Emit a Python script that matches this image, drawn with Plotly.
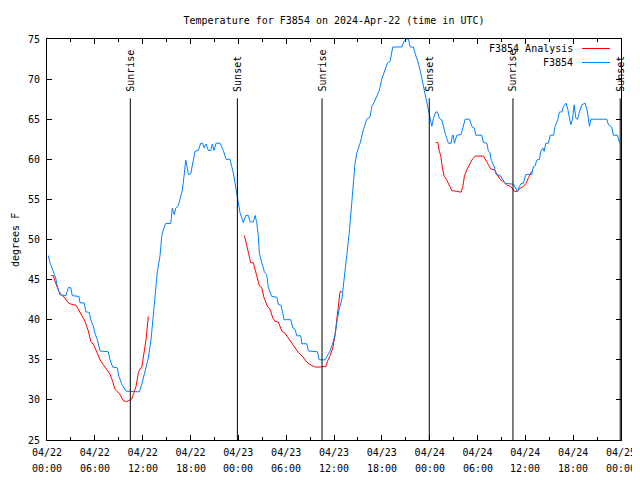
import pandas as pd
import plotly.graph_objects as go

# Hours since 2024-04-22 00:00 UTC, temperatures in degrees F
obs_hours = [0.16, 0.38, 0.79, 1.09, 1.29, 1.63, 2.38, 2.67, 2.97, 3.17, 4.02, 4.14, 4.68, 4.86,
             5.31, 5.48, 5.81, 6.02, 6.31, 6.65, 7.69, 7.90, 8.24, 8.82, 9.03, 9.37, 9.91, 11.58,
             11.88, 12.30, 12.71, 13.05, 13.30, 13.55, 13.84, 14.18, 14.39, 14.59, 14.89, 15.52,
             15.72, 15.97, 16.15, 16.47, 16.78, 16.98, 17.19, 17.40, 17.53, 17.73, 18.03, 18.28,
             18.57, 18.98, 19.28, 19.54, 19.70, 19.95, 20.24, 20.54, 20.74, 20.95, 21.20, 21.71,
             22.12, 22.46, 22.96, 23.17, 23.38, 23.59, 23.80, 24.00, 24.22, 24.43, 24.63, 24.93,
             25.26, 25.47, 25.88, 26.10, 26.31, 26.51, 26.64, 26.94, 27.26, 27.57, 27.77, 28.19,
             28.82, 29.02, 29.36, 29.57, 29.74, 30.58, 30.83, 31.12, 31.33, 31.83, 31.96, 32.58,
             32.79, 33.92, 34.13, 34.88, 35.17, 35.51, 35.85, 36.14, 36.35, 36.64, 36.98, 37.18,
             37.39, 37.60, 37.93, 38.23, 38.43, 38.64, 38.86, 39.27, 39.69, 39.90, 40.11, 40.53,
             40.74, 41.03, 41.37, 41.69, 41.99, 42.41, 42.70, 43.04, 43.37, 44.50, 44.79, 45.04,
             45.33, 45.55, 45.96, 46.30, 46.59, 46.89, 47.14, 47.43, 47.64, 47.84, 47.97, 48.27,
             48.47, 48.77, 48.97, 49.22, 49.52, 49.72, 50.02, 50.35, 50.69, 50.85, 50.98, 51.10,
             51.41, 51.94, 52.16, 52.45, 52.99, 53.29, 53.61, 53.79, 54.54, 54.74, 55.17, 55.37,
             55.58, 55.71, 56.09, 56.34, 56.84, 57.47, 58.51, 58.85, 59.01, 59.26, 59.47, 59.76,
             60.06, 60.81, 61.02, 61.23, 61.44, 61.77, 61.94, 62.19, 62.36, 62.57, 62.90, 63.11,
             63.53, 63.74, 64.08, 64.28, 64.58, 64.78, 65.12, 65.33, 65.53, 65.71, 65.91, 66.12,
             66.34, 66.54, 66.79, 67.09, 67.50, 67.79, 68.04, 68.22, 70.22, 70.43, 70.85, 71.05,
             71.56, 71.81]
obs_temps = [48.0, 47.1, 46.0, 45.2, 44.2, 43.1, 43.0, 44.0, 44.0, 43.0, 42.9, 42.1, 42.1, 41.0,
             40.9, 40.0, 39.2, 38.3, 37.5, 36.1, 36.0, 35.0, 34.1, 34.0, 32.9, 32.0, 31.1, 31.0,
             31.9, 33.4, 35.2, 37.5, 40.0, 42.9, 46.0, 48.0, 50.4, 51.2, 52.0, 52.0,
             53.9, 53.1, 53.9, 54.2, 55.4, 56.2, 57.9, 59.9, 59.3, 58.1, 58.2, 59.5,
             61.0, 61.1, 62.0, 62.0, 61.4, 61.9, 61.1, 61.1, 61.9, 61.1, 62.0, 62.0,
             61.1, 60.0, 60.0, 59.1, 58.3, 57.0, 55.8, 54.7, 53.3, 52.7, 52.1, 53.0,
             53.0, 52.2, 52.2, 53.0, 52.1, 50.4, 48.3, 47.1, 46.0, 45.6, 44.0, 42.9,
             42.8, 41.9, 41.8, 40.8, 40.0, 40.0, 39.0, 38.8, 38.0, 38.0, 37.0, 37.0,
             36.1, 36.0, 35.0, 35.0, 35.6, 36.1, 37.1, 38.1, 39.7, 41.3, 42.5, 44.5,
             45.8, 48.0, 51.0, 54.5, 57.4, 59.5, 60.8, 62.0, 63.7, 64.5, 65.0, 65.3,
             66.6, 67.1, 67.8, 68.6, 70.0, 71.1, 72.0, 72.2, 74.0, 74.0, 74.7, 75.0,
             75.0, 74.0, 74.0, 72.8, 72.0, 70.7, 69.5, 68.2, 67.0, 66.2, 65.3, 64.1,
             65.1, 65.9, 65.9, 65.1, 64.9, 64.1, 63.0, 62.0, 62.0, 63.0, 63.0, 62.0,
             63.0, 63.1, 64.1, 65.0, 65.0, 64.1, 63.9, 63.0, 63.0, 62.1, 62.0, 61.0,
             60.8, 59.9, 59.1, 58.1, 58.0, 57.0, 56.9, 56.2, 56.0, 56.6, 57.0, 57.0,
             58.1, 58.1, 59.1, 59.2, 59.9, 60.0, 61.0, 61.4, 61.0, 62.0, 62.0, 63.0,
             63.0, 64.1, 65.0, 65.9, 65.9, 66.6, 67.0, 66.2, 65.0, 64.3, 65.0, 66.8,
             65.1, 65.0, 65.9, 66.8, 67.0, 65.9, 64.1, 65.0, 65.0, 64.3, 64.0, 63.0,
             63.0, 62.1]

# Analysis series (None marks gaps)
ana_hours = [0.50, 0.79, 1.00, 1.22, 1.51, 1.72, 2.26, 2.67, 3.10, 3.64, 3.93, 4.35, 4.77, 5.18,
             5.48, 5.90, 6.24, 6.65, 7.06, 7.49, 7.90, 8.24, 8.53, 9.07, 9.57, 10.00, 10.63,
             10.83, 11.17, 11.46, 11.67, 11.88, 12.17, 12.42, 12.71, None,
             24.76, 25.06, 25.26, 25.56, 25.88, 26.10, 26.31, 26.64, 26.94, 27.23, 27.64, 27.98,
             28.32, 28.61, 29.02, 29.45, 29.86, 30.28, 30.70, 31.12, 31.53, 32.08, 32.50, 33.00,
             33.63, 34.25, 34.67, 35.01, 35.17, 35.51, 35.85, 36.14, 36.35, 36.55, 36.76, 36.98,
             None,
             48.77, 49.02, 49.22, 49.40, 49.60, 49.81, 50.15, 50.48, 50.78, 51.41, 51.94, 52.16,
             52.36, 52.66, 52.99, 53.29, 53.70, 54.74, 55.04, 55.37, 55.67, 56.09, 56.42, 56.84,
             57.25, 57.67, 58.18, 58.63, 59.01, 59.35, 59.76, 60.10, 60.39, 60.81]
ana_temps = [45.5, 45.5, 44.8, 44.2, 43.5, 43.2, 42.7, 42.1, 41.9, 41.8, 41.3, 40.4, 39.8, 38.6,
             37.3, 36.8, 35.9, 35.0, 34.4, 33.8, 33.2, 32.3, 31.3, 30.8, 29.9, 29.8, 30.1,
             30.7, 31.7, 33.4, 33.9, 34.0, 35.6, 37.5, 40.4, None,
             50.5, 49.3, 48.3, 47.1, 47.1, 46.2, 45.2, 44.2, 44.0, 42.7, 41.7, 41.3,
             40.2, 39.8, 39.7, 38.6, 38.3, 37.7, 37.0, 36.5, 35.9, 35.4, 34.8, 34.4,
             34.1, 34.1, 34.2, 34.2, 34.8, 35.5, 36.5, 38.1, 40.0, 41.9, 43.5, 43.5,
             None,
             62.1, 62.1, 61.0, 60.4, 58.9, 57.9, 57.4, 56.6, 56.1, 56.0, 55.9, 56.6,
             57.9, 58.7, 59.3, 59.9, 60.4, 60.4, 59.9, 59.3, 58.8, 58.7, 58.1, 57.5,
             57.2, 56.8, 56.6, 56.0, 56.0, 56.4, 56.6, 57.0, 57.7, 58.5]

sun_hours = [10.45, 23.88, 34.5, 47.95, 58.45, 71.9]
sun_labels = ["Sunrise", "Sunset", "Sunrise", "Sunset", "Sunrise", "Sunset"]

tick_hours = list(range(0, 73, 6))
tick_dates = ["04/22", "04/22", "04/22", "04/22", "04/23", "04/23", "04/23", "04/23",
              "04/24", "04/24", "04/24", "04/24", "04/25"]
tick_times = ["00:00", "06:00", "12:00", "18:00"] * 3 + ["00:00"]

base = pd.Timestamp("2024-04-22 00:00")


def to_time(hours):
    return [None if h is None else base + pd.Timedelta(hours=h) for h in hours]


FONT = "DejaVu Sans Mono"
RED = "#ff0000"
BLUE = "#0080ff"
TXT = dict(family=FONT, size=10, color="black")

# page pixel geometry of the plot area (page has an 8px body margin)
PL, PR, PT, PB = 47, 621, 39, 440
OFF = 8


def px(xp):
    return (xp - PL) / (PR - PL)


def py(yp):
    return (PB - yp) / (PB - PT)


fig = go.Figure()
fig.add_trace(go.Scatter(x=to_time(ana_hours), y=ana_temps, mode="lines", name="F3854 Analysis",
                         line=dict(color=RED, width=1), connectgaps=False))
fig.add_trace(go.Scatter(x=to_time(obs_hours), y=obs_temps, mode="lines", name="F3854",
                         line=dict(color=BLUE, width=1)))

shapes = []
annotations = []
line_top = 67.6
for h, lab in zip(sun_hours, sun_labels):
    t = base + pd.Timedelta(hours=h)
    shapes.append(dict(type="line", xref="x", yref="y", x0=t, x1=t, y0=25, y1=line_top,
                       line=dict(color="black", width=1)))
    annotations.append(dict(x=t, xref="x", y=line_top + 0.6, yref="y", text=lab, textangle=-90,
                            showarrow=False, xanchor="center", yanchor="bottom", font=TXT))

# second row of x tick labels (times)
for h, tt in zip(tick_hours, tick_times):
    t = base + pd.Timedelta(hours=h)
    annotations.append(dict(x=t, xref="x", y=py(468), yref="paper", text=tt, showarrow=False,
                            xanchor="center", yanchor="middle", font=TXT))

# y axis title
annotations.append(dict(x=px(15), xref="paper", y=py(240), yref="paper", text="degrees F",
                        textangle=-90, showarrow=False, xanchor="center", yanchor="middle",
                        font=TXT))

# legend (text first, then sample line, as in the original)
leg_items = [("F3854 Analysis", RED, 48.5), ("F3854", BLUE, 62.5)]
for text, col, ly in leg_items:
    annotations.append(dict(x=px(575), xref="paper", y=py(ly), yref="paper", text=text,
                            showarrow=False, xanchor="right", yanchor="middle", font=TXT))
    shapes.append(dict(type="line", xref="paper", yref="paper", x0=px(582), x1=px(610),
                       y0=py(ly), y1=py(ly), line=dict(color=col, width=1)))

W, H = 640, 480
fig.update_layout(
    width=W, height=H,
    margin=dict(l=PL - OFF, r=W - (PR - OFF), t=PT - OFF, b=H - (PB - OFF), pad=0),
    paper_bgcolor="white", plot_bgcolor="white",
    showlegend=False,
    font=TXT,
    title=dict(text="Temperature for F3854 on 2024-Apr-22 (time in UTC)", x=0.5, xref="paper",
               xanchor="center", y=1 - (20 - OFF) / H, yanchor="middle", font=TXT),
    shapes=shapes, annotations=annotations,
)
fig.update_xaxes(range=[base, base + pd.Timedelta(hours=72)], automargin=False,
                 tickmode="array", tickvals=to_time(tick_hours), ticktext=tick_dates,
                 ticks="inside", ticklen=5, tickcolor="black", showgrid=False, zeroline=False,
                 showline=True, linecolor="black", linewidth=1, mirror="ticks",
                 ticklabelstandoff=3,
                 minor=dict(tickmode="linear", tick0=base, dtick=3 * 3600 * 1000, ticks="inside",
                            ticklen=3, tickcolor="black", showgrid=False),
                 tickfont=TXT)
fig.update_yaxes(range=[25, 75], tickmode="linear", tick0=25, dtick=5, automargin=False,
                 ticks="inside", ticklen=5, tickcolor="black", showgrid=False, zeroline=False,
                 showline=True, linecolor="black", linewidth=1, mirror="ticks",
                 ticklabelstandoff=4,
                 tickfont=TXT)

fig.write_html("out.html")
